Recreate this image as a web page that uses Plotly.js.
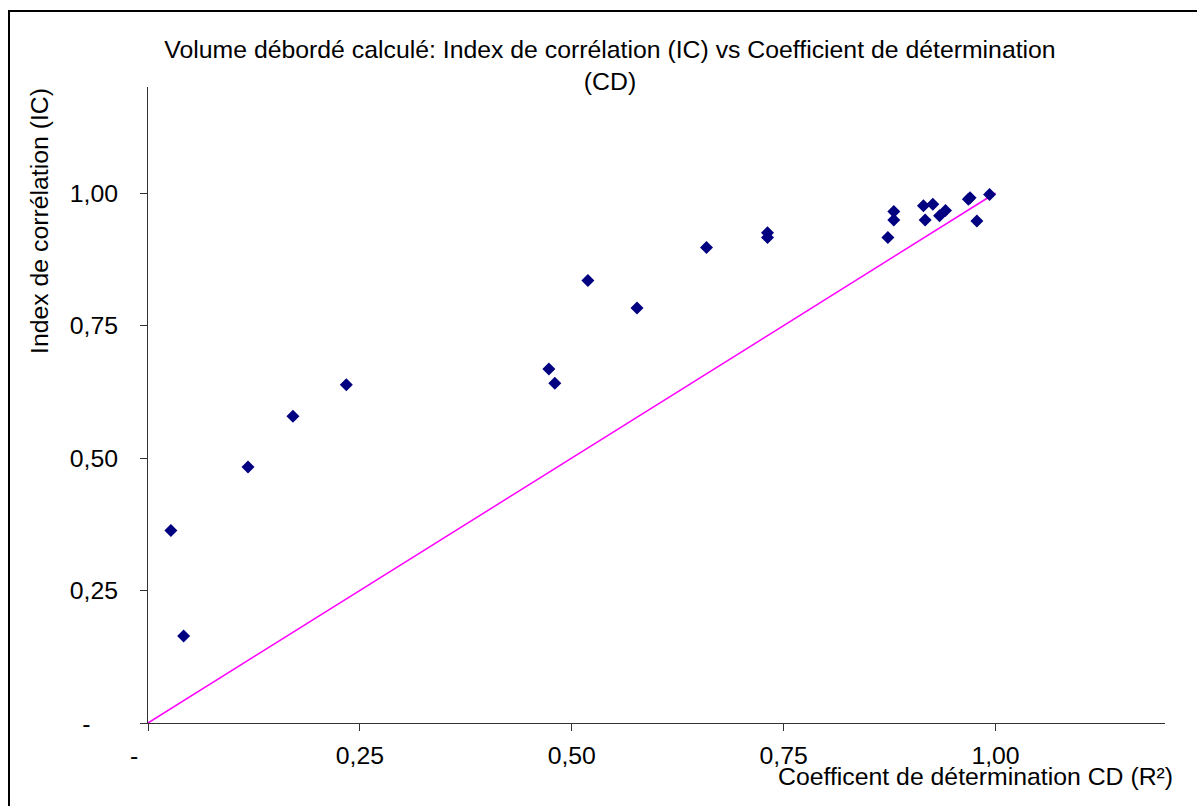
<!DOCTYPE html>
<html>
<head>
<meta charset="utf-8">
<script src="https://cdn.plot.ly/plotly-3.0.1.min.js"></script>
<style>
html,body{margin:0;padding:0;background:#fff;}
#chart{width:1197px;height:806px;}
</style>
</head>
<body>
<div id="chart"></div>
<script>
// Data
const cdValues = [0.027, 0.042, 0.118, 0.171, 0.234, 0.473, 0.480, 0.519, 0.577, 0.659,
                  0.731, 0.731, 0.873, 0.880, 0.880, 0.915, 0.926, 0.917, 0.934, 0.941,
                  0.968, 0.970, 0.978, 0.993];
const icValues = [0.363, 0.164, 0.483, 0.579, 0.638, 0.668, 0.641, 0.835, 0.783, 0.897,
                  0.925, 0.916, 0.916, 0.965, 0.949, 0.976, 0.979, 0.949, 0.957, 0.967,
                  0.988, 0.991, 0.947, 0.997];
const refLineX = [0, 1];
const refLineY = [0, 1];
const xTickVals = [0, 0.25, 0.5, 0.75, 1.0];
const xTickText = ["-\u00a0\u00a0\u00a0\u00a0", "0,25", "0,50", "0,75", "1,00"];
const yTickVals = [0, 0.25, 0.5, 0.75, 1.0];
const yTickText = ["-\u00a0\u00a0\u00a0\u00a0", "0,25", "0,50", "0,75", "1,00"];

const FONT = "Liberation Sans, Arial, sans-serif";
const FS = 24.8;

const traces = [
  {x: refLineX, y: refLineY, mode: "lines", type: "scatter",
   line: {color: "#FF00FF", width: 1.5}, hoverinfo: "skip"},
  {x: cdValues, y: icValues, mode: "markers", type: "scatter",
   marker: {symbol: "diamond", size: 10, color: "#000080"}}
];

const layout = {
  width: 1197, height: 806,
  margin: {l: 148, r: 32, t: 87, b: 83},
  paper_bgcolor: "#fff", plot_bgcolor: "#fff",
  showlegend: false,
  separators: ", ",
  font: {family: FONT, size: FS, color: "#000"},
  title: {
    text: "Volume débordé calculé: Index de corrélation (IC) vs Coefficient de détermination<br>(CD)",
    font: {family: FONT, size: FS, color: "#000"},
    xref: "container", x: 610/1197, xanchor: "center",
    yref: "container", y: 1 - 58/806, yanchor: "top"
  },
  xaxis: {
    range: [0, 1.2], tickvals: xTickVals, ticktext: xTickText,
    showgrid: false, zeroline: false, showline: true, linecolor: "#333", linewidth: 1,
    ticks: "outside", ticklen: 7, tickcolor: "#333", tickwidth: 1,
    ticklabelstandoff: 3,
    tickfont: {family: FONT, size: FS, color: "#000"}
  },
  yaxis: {
    range: [0, 1.2], tickvals: yTickVals, ticktext: yTickText,
    showgrid: false, zeroline: false, showline: true, linecolor: "#333", linewidth: 1,
    ticks: "outside", ticklen: 7, tickcolor: "#333", tickwidth: 1,
    ticklabelstandoff: 17,
    tickfont: {family: FONT, size: FS, color: "#000"}
  },
  annotations: [
    {text: "Coefficent de détermination CD (R²)", xref: "paper", yref: "paper",
     x: (1175-148)/1017, y: (723-776)/636, xanchor: "right", yanchor: "middle",
     showarrow: false, font: {family: FONT, size: FS, color: "#000"}},
    {text: "Index de corrélation (IC)", xref: "paper", yref: "paper",
     x: (40-148)/1017, y: (723-221)/636, xanchor: "center", yanchor: "middle",
     textangle: -90, showarrow: false, font: {family: FONT, size: FS, color: "#000"}}
  ],
  shapes: [
    {type: "rect", xref: "paper", yref: "paper",
     x0: (9-148)/1017, x1: 1.2, y0: -0.3, y1: (723-11)/636,
     line: {color: "#000", width: 2}, fillcolor: "rgba(0,0,0,0)", layer: "below"}
  ]
};

Plotly.newPlot("chart", traces, layout, {displayModeBar: false, staticPlot: true});
</script>
</body>
</html>
